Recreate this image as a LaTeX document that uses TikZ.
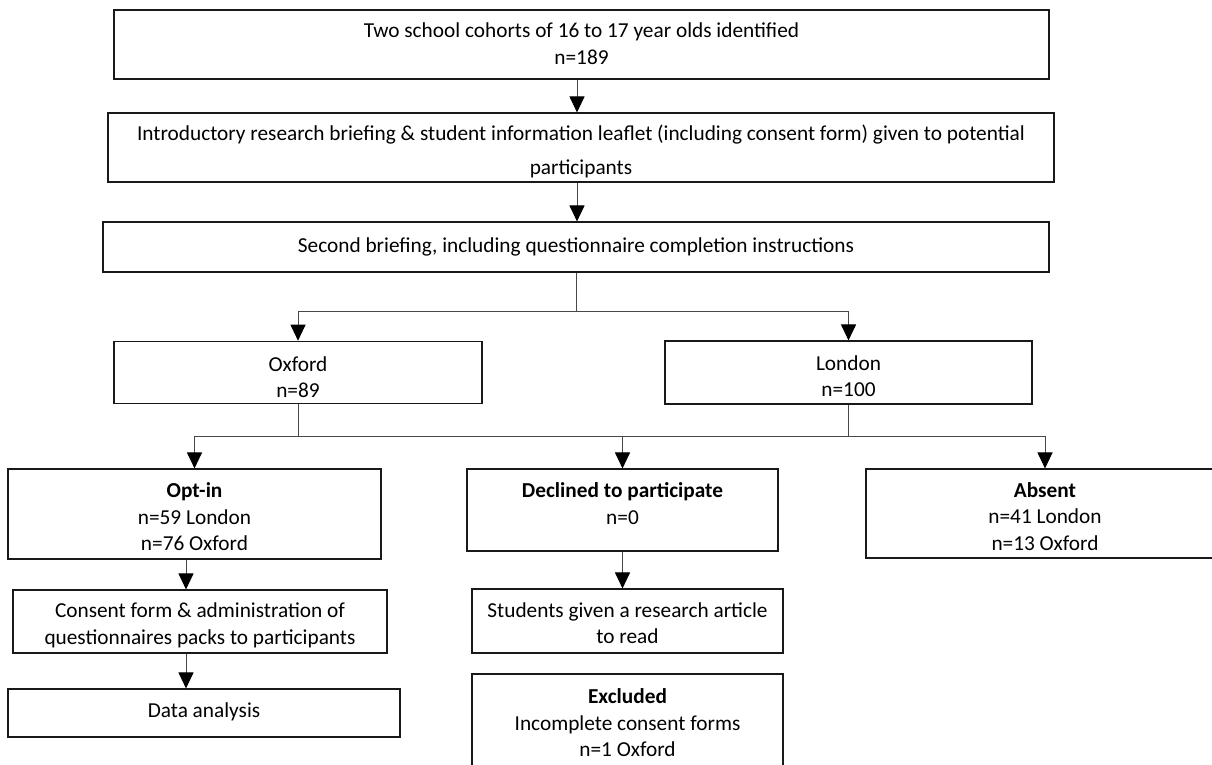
\documentclass[tikz,border=0pt]{standalone}
\usepackage{fontspec}
\setmainfont{Carlito}
\usetikzlibrary{arrows.meta,calc}

% first-line height and last-line depth struts, so the lines sit where wanted
\newcommand{\boxtext}[3]{\rule{0pt}{#1pt}#3\rule[-#2pt]{0pt}{#2pt}}

\tikzset{
  flowbox/.style={draw=black!90, line width=1.1pt, rectangle, inner sep=0pt,
    align=center, font=\fontsize{21.3}{26.5}\selectfont},
  link/.style={draw=black!72, line width=1pt},
  arr/.style={link, -{Triangle[length=16pt,width=15pt,color=black]}},
}

\begin{document}
\begin{tikzpicture}[x=1pt, y=-1pt]
\clip (0,0) rectangle (1212,765);
\fill[white] (0,0) rectangle (1212,765);

% recruitment steps
\node[flowbox, minimum width=935pt, minimum height=69pt] (b1) at (581.5,44.5)
  {\boxtext{19}{6}{Two school cohorts of 16 to 17 year olds identified\\n=189}};
\node[flowbox, minimum width=946pt, minimum height=69pt] (b2) at (581,147.5)
  {\boxtext{25}{6}{Introductory research briefing \& student information leaflet (including consent form) given to potential\\[7.5pt]participants}};
\node[flowbox, minimum width=946pt, minimum height=50pt] (b3) at (576,247)
  {\boxtext{16}{6}{Second briefing, including questionnaire completion instructions}};

% sites
\node[flowbox, minimum width=368pt, minimum height=61pt] (oxf) at (298,372.5)
  {\boxtext{30}{6}{Oxford\\n=89}};
\node[flowbox, minimum width=367pt, minimum height=63pt] (lon) at (848.5,372.5)
  {\boxtext{28}{6}{London\\n=100}};

% outcomes
\node[flowbox, minimum width=373pt, minimum height=90pt] (optin) at (194.5,514)
  {\boxtext{26}{6}{\textbf{Opt-in}\\n=59 London\\n=76 Oxford}};
\node[flowbox, minimum width=311pt, minimum height=82pt] (decl) at (622.5,510)
  {\boxtext{16}{14}{\textbf{Declined to participate}\\n=0}};
\node[flowbox, minimum width=358pt, minimum height=89pt] (absent) at (1045,513.5)
  {\boxtext{26}{6}{\textbf{Absent}\\n=41 London\\n=13 Oxford}};

% follow-up
\node[flowbox, minimum width=374pt, minimum height=63pt] (consent) at (200,621.5)
  {\boxtext{25}{6}{Consent form \& administration of\\questionnaires packs to participants}};
\node[flowbox, minimum width=392pt, minimum height=48pt] (data) at (204,713)
  {\boxtext{16}{8}{Data analysis}};
\node[flowbox, minimum width=311pt, minimum height=64pt] (students) at (627.5,621)
  {\boxtext{25}{6}{Students given a research article\\to read}};
\node[flowbox, minimum width=311pt, minimum height=116pt] (excluded) at (627.5,732)
  {\boxtext{16}{20}{\textbf{Excluded}\\Incomplete consent forms\\n=1 Oxford}};

% connectors
\draw[arr] ([xshift=-4.5pt]b1.south) -- ([xshift=-4.5pt]b1.south |- b2.north);
\draw[arr] ([xshift=-4pt]b2.south) -- ([xshift=-4pt]b2.south |- b3.north);

\coordinate (split) at ($(b3.south)+(0,39)$);
\draw[link] (b3.south) -- (split);
\draw[arr] (split) -| (oxf.north);
\draw[arr] (split) -| (lon.north);

\coordinate (railL) at (optin.north |- 0,436);
\coordinate (railR) at (absent.north |- railL);
\draw[link] (oxf.south) -- (oxf.south |- railL);
\draw[link] (lon.south) -- (lon.south |- railL);
\draw[link] (railL) -- (railR);
\draw[arr] (railL) -- (optin.north);
\draw[arr] (railL -| decl.north) -- (decl.north);
\draw[arr] (railR) -- (absent.north);

\draw[arr] ([xshift=-8.5pt]optin.south) -- ([xshift=-8.5pt]optin.south |- consent.north);
\draw[arr] ([xshift=-14pt]consent.south) -- ([xshift=-14pt]consent.south |- data.north);
\draw[arr] (decl.south) -- (decl.south |- students.north);
\end{tikzpicture}
\end{document}
